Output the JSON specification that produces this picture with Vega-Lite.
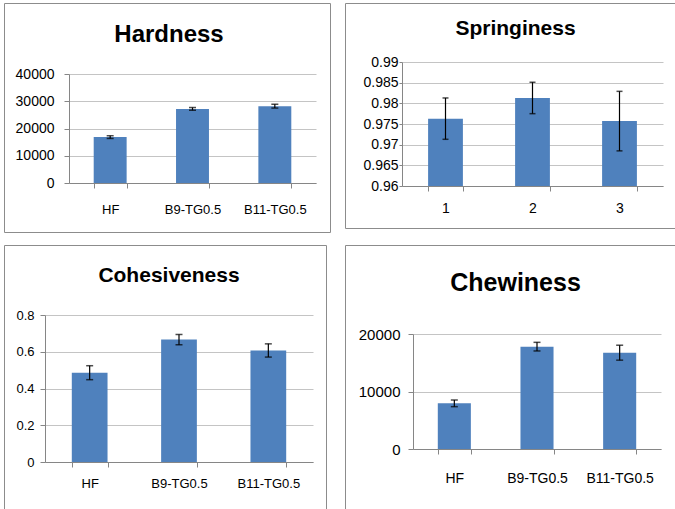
{
  "$schema": "https://vega.github.io/schema/vega-lite/v6.json",
  "padding": {"left": 3, "top": 2, "right": 0, "bottom": 0},
  "background": "white",
  "spacing": 11,
  "config": {
    "view": {"stroke": "#8c8c8c", "strokeWidth": 1},
    "axis": {"labelFont": "Liberation Sans", "labelColor": "black", "domainColor": "#868686", "tickColor": "#868686", "gridColor": "#c4c4c4", "labelAngle": 0},
    "title": {"font": "Liberation Sans", "fontWeight": "bold", "color": "black", "baseline": "middle"}
  },
  "vconcat": [
    {
      "spacing": 13,
      "hconcat": [
        {
          "width": 326, "height": 229,
          "title": {"text": "Hardness", "fontSize": 24, "offset": -44, "dx": 2},
          "data": {"values": [
            {"c": "HF", "v": 16850, "e": 500},
            {"c": "B9-TG0.5", "v": 27200, "e": 500},
            {"c": "B11-TG0.5", "v": 28200, "e": 700}
          ]},
          "encoding": {
            "x": {"field": "c", "type": "nominal", "sort": null,
              "scale": {"range": [65, 312], "paddingInner": 0.6, "paddingOuter": 0.3},
              "axis": {"title": null, "offset": -49, "tickBand": "extent", "tickSize": 5, "labelPadding": 15, "labelFontSize": 13}},
            "y": {"field": "v", "type": "quantitative",
              "scale": {"domain": [0, 40000], "range": [180, 71], "nice": false},
              "axis": {"title": null, "offset": -65, "values": [0, 10000, 20000, 30000, 40000], "format": "d", "grid": true, "tickSize": 5, "labelPadding": 10, "labelFontSize": 14}}
          },
          "layer": [
            {"mark": {"type": "bar", "color": "#4F81BD"}},
            {"mark": {"type": "errorbar", "color": "black", "ticks": {"size": 7, "thickness": 1.5}, "rule": {"strokeWidth": 1.2}},
             "encoding": {"yError": {"field": "e"}}}
          ]
        },
        {
          "width": 331, "height": 225,
          "title": {"text": "Springiness", "fontSize": 21, "offset": -36, "dx": 5},
          "data": {"values": [
            {"c": "1", "v": 0.9763, "e": 0.005},
            {"c": "2", "v": 0.9813, "e": 0.0038},
            {"c": "3", "v": 0.9757, "e": 0.0072}
          ]},
          "encoding": {
            "x": {"field": "c", "type": "nominal", "sort": null,
              "scale": {"range": [57, 318], "paddingInner": 0.6, "paddingOuter": 0.3},
              "axis": {"title": null, "offset": -42, "tickBand": "extent", "tickSize": 5, "labelPadding": 10, "labelFontSize": 14}},
            "y": {"field": "v", "type": "quantitative",
              "scale": {"domain": [0.96, 0.99], "range": [183, 59], "nice": false, "zero": false},
              "axis": {"title": null, "offset": -57, "values": [0.96, 0.965, 0.97, 0.975, 0.98, 0.985, 0.99], "format": "~g", "grid": true, "tickSize": 3, "labelPadding": 1, "labelFontSize": 14}}
          },
          "layer": [
            {"mark": {"type": "bar", "color": "#4F81BD"}, "encoding": {"y2": {"datum": 0.96}}},
            {"mark": {"type": "errorbar", "color": "black", "ticks": {"size": 6, "thickness": 1.5}, "rule": {"strokeWidth": 1.2}},
             "encoding": {"yError": {"field": "e"}}}
          ]
        }
      ]
    },
    {
      "spacing": 17,
      "hconcat": [
        {
          "width": 322, "height": 264,
          "title": {"text": "Cohesiveness", "fontSize": 21, "offset": -41, "dx": 4},
          "data": {"values": [
            {"c": "HF", "v": 0.486, "e": 0.038},
            {"c": "B9-TG0.5", "v": 0.666, "e": 0.028},
            {"c": "B11-TG0.5", "v": 0.607, "e": 0.036}
          ]},
          "encoding": {
            "x": {"field": "c", "type": "nominal", "sort": null,
              "scale": {"range": [41, 309], "paddingInner": 0.6, "paddingOuter": 0.3},
              "axis": {"title": null, "offset": -47, "tickBand": "extent", "tickSize": 5, "labelPadding": 10, "labelFontSize": 13}},
            "y": {"field": "v", "type": "quantitative",
              "scale": {"domain": [0, 0.8], "range": [217, 70], "nice": false},
              "axis": {"title": null, "offset": -41, "values": [0, 0.2, 0.4, 0.6, 0.8], "format": "~g", "grid": true, "tickSize": 5, "labelPadding": 6, "labelFontSize": 13}}
          },
          "layer": [
            {"mark": {"type": "bar", "color": "#4F81BD"}},
            {"mark": {"type": "errorbar", "color": "black", "ticks": {"size": 7, "thickness": 1.5}, "rule": {"strokeWidth": 1.2}},
             "encoding": {"yError": {"field": "e"}}}
          ]
        },
        {
          "width": 331, "height": 266,
          "title": {"text": "Chewiness", "fontSize": 25, "offset": -51, "dx": 5},
          "data": {"values": [
            {"c": "HF", "v": 7940, "e": 580},
            {"c": "B9-TG0.5", "v": 17800, "e": 750},
            {"c": "B11-TG0.5", "v": 16750, "e": 1300}
          ]},
          "encoding": {
            "x": {"field": "c", "type": "nominal", "sort": null,
              "scale": {"range": [68, 316], "paddingInner": 0.6, "paddingOuter": 0.3},
              "axis": {"title": null, "offset": -62, "tickBand": "extent", "tickSize": 5, "labelPadding": 17, "labelFontSize": 14}},
            "y": {"field": "v", "type": "quantitative",
              "scale": {"domain": [0, 20000], "range": [204, 89], "nice": false},
              "axis": {"title": null, "offset": -68, "values": [0, 10000, 20000], "format": "d", "grid": true, "tickSize": 5, "labelPadding": 8, "labelFontSize": 15}}
          },
          "layer": [
            {"mark": {"type": "bar", "color": "#4F81BD"}},
            {"mark": {"type": "errorbar", "color": "black", "ticks": {"size": 7, "thickness": 1.5}, "rule": {"strokeWidth": 1.2}},
             "encoding": {"yError": {"field": "e"}}}
          ]
        }
      ]
    }
  ]
}
